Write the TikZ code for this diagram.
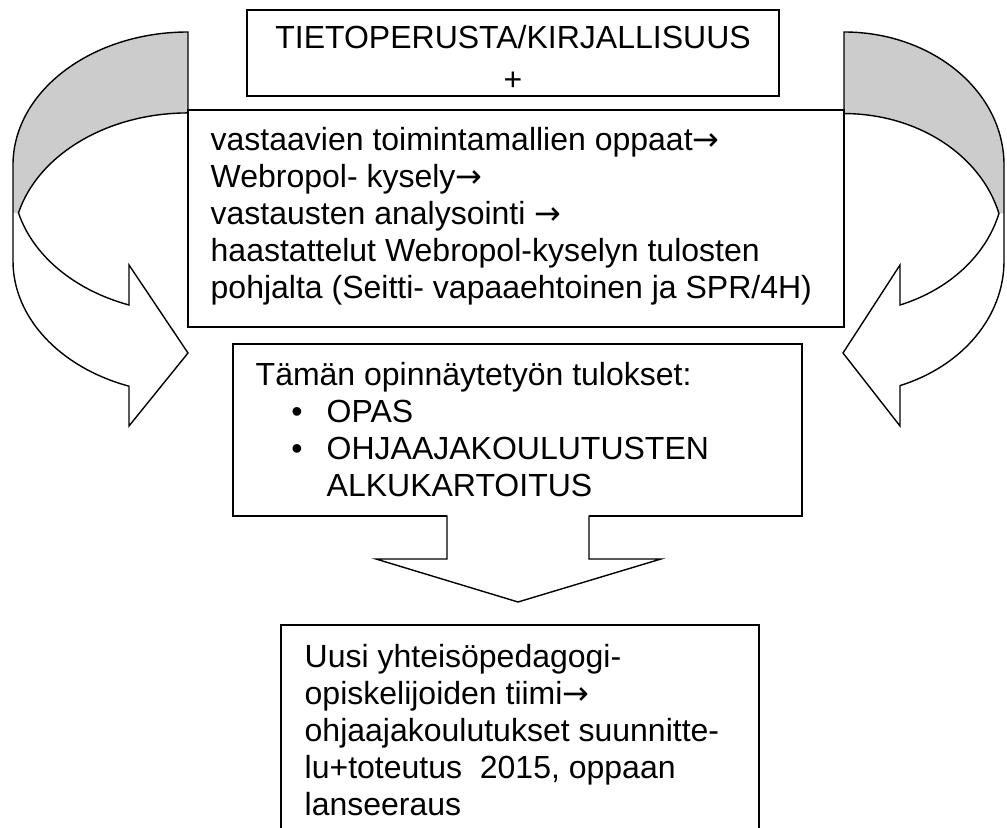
\documentclass[tikz,border=0pt]{standalone}
\usepackage{fontspec}
\setmainfont{Liberation Sans}
\newfontfamily\arrowfont{DejaVu Sans}
\newcommand\rarr{{\arrowfont →}}
\definecolor{bandgray}{RGB}{204,204,204}
\begin{document}
\begin{tikzpicture}[x=0.5pt,y=0.5pt, line width=0.7pt, line join=miter,
  box/.style={draw=black, fill=white, rectangle, inner sep=0pt},
  txt/.style={inner sep=0pt, anchor=base west, font=\fontsize{16pt}{18.5pt}\selectfont},
  ctxt/.style={inner sep=0pt, anchor=base, font=\fontsize{16pt}{18.5pt}\selectfont},
  leftshape/.style={insert path={(188,-32) arc[start angle=90,end angle=180,x radius=87.5pt,y radius=66.5pt]
     -- (13,-261) arc[start angle=180,end angle=250.3,x radius=87.5pt,y radius=66.5pt]
     -- (129,-426) -- (188,-353) -- (129,-265) -- (129,-305)
     arc[start angle=250.3,end angle=194.4,x radius=87.5pt,y radius=66.5pt]
     arc[start angle=165.6,end angle=90,x radius=87.5pt,y radius=66.5pt] -- cycle}},
  leftgray/.style={insert path={(188,-32) arc[start angle=90,end angle=180,x radius=87.5pt,y radius=66.5pt]
     -- (13,-213.1) -- (18.5,-213.1)
     arc[start angle=165.6,end angle=90,x radius=87.5pt,y radius=66.5pt] -- cycle}},
  rightshape/.style={insert path={(844,-32) arc[start angle=90,end angle=0,x radius=80pt,y radius=66.5pt]
     -- (1004,-261) arc[start angle=0,end angle=-69.5,x radius=80pt,y radius=66.5pt]
     -- (900,-426) -- (843,-353) -- (900,-265) -- (900,-305)
     arc[start angle=-69.5,end angle=-14.4,x radius=80pt,y radius=66.5pt]
     arc[start angle=14.4,end angle=90,x radius=80pt,y radius=66.5pt] -- cycle}},
  rightgray/.style={insert path={(844,-32) arc[start angle=90,end angle=0,x radius=80pt,y radius=66.5pt]
     -- (1004,-213.5) -- (999,-213.5)
     arc[start angle=14.4,end angle=90,x radius=80pt,y radius=66.5pt] -- cycle}},
  ]
\useasboundingbox (0,0) rectangle (1007,-828);
\clip (0,0) rectangle (1007,-828);

% curved arrows
\fill[white, leftshape];
\fill[bandgray, leftgray];
\draw[leftshape];
\fill[white, rightshape];
\fill[bandgray, rightgray];
\draw[rightshape];

% boxes
\node[box, minimum width=266pt, minimum height=43pt] (top) at (513,-53) {};
\node[box, minimum width=328pt, minimum height=108.5pt] (mid) at (516,-218.5) {};
\node[box, minimum width=284.5pt, minimum height=86pt] (res) at (517.5,-430) {};
\node[box, minimum width=239pt, minimum height=117.5pt] (team) at (520,-742.5) {};

% down block arrow
\fill[white] (447,-514) -- (447,-559) -- (376,-559) -- (518,-602) -- (661,-559) -- (589,-559) -- (589,-514) -- cycle;
\draw (447,-515.3) -- (447,-559) -- (376,-559) -- (518,-602) -- (661,-559) -- (589,-559) -- (589,-515.3);

% texts
\node[ctxt] (t1) at (513,-49) {TIETOPERUSTA/KIRJALLISUUS};
\node[ctxt] (t2) at (513,-91) {+};

\node[txt] (m1) at (210,-151) {vastaavien toimintamallien oppaat\rarr};
\node[txt] (m2) at (210,-188) {Webropol- kysely\rarr};
\node[txt] (m3) at (210,-225) {vastausten analysointi \rarr};
\node[txt] (m4) at (210,-262) {haastattelut Webropol-kyselyn tulosten};
\node[txt] (m5) at (210,-299) {pohjalta (Seitti- vapaaehtoinen ja SPR/4H)};

\node[txt] (r1) at (255,-386) {Tämän opinnäytetyön tulokset:};
\node[ctxt] (rb1) at (297,-423) {•};
\node[txt] (r2) at (326,-423) {OPAS};
\node[ctxt] (rb2) at (297,-460) {•};
\node[txt] (r3) at (326,-460) {OHJAAJAKOULUTUSTEN};
\node[txt] (r4) at (326,-497) {ALKUKARTOITUS};

\node[txt] (u1) at (304,-667) {Uusi yhteisöpedagogi-};
\node[txt] (u2) at (304,-704) {opiskelijoiden tiimi\rarr};
\node[txt] (u3) at (304,-741) {ohjaajakoulutukset suunnitte-};
\node[txt] (u4) at (304,-778) {lu+toteutus\ \ 2015, oppaan};
\node[txt] (u5) at (304,-815) {lanseeraus};
\end{tikzpicture}
\end{document}
